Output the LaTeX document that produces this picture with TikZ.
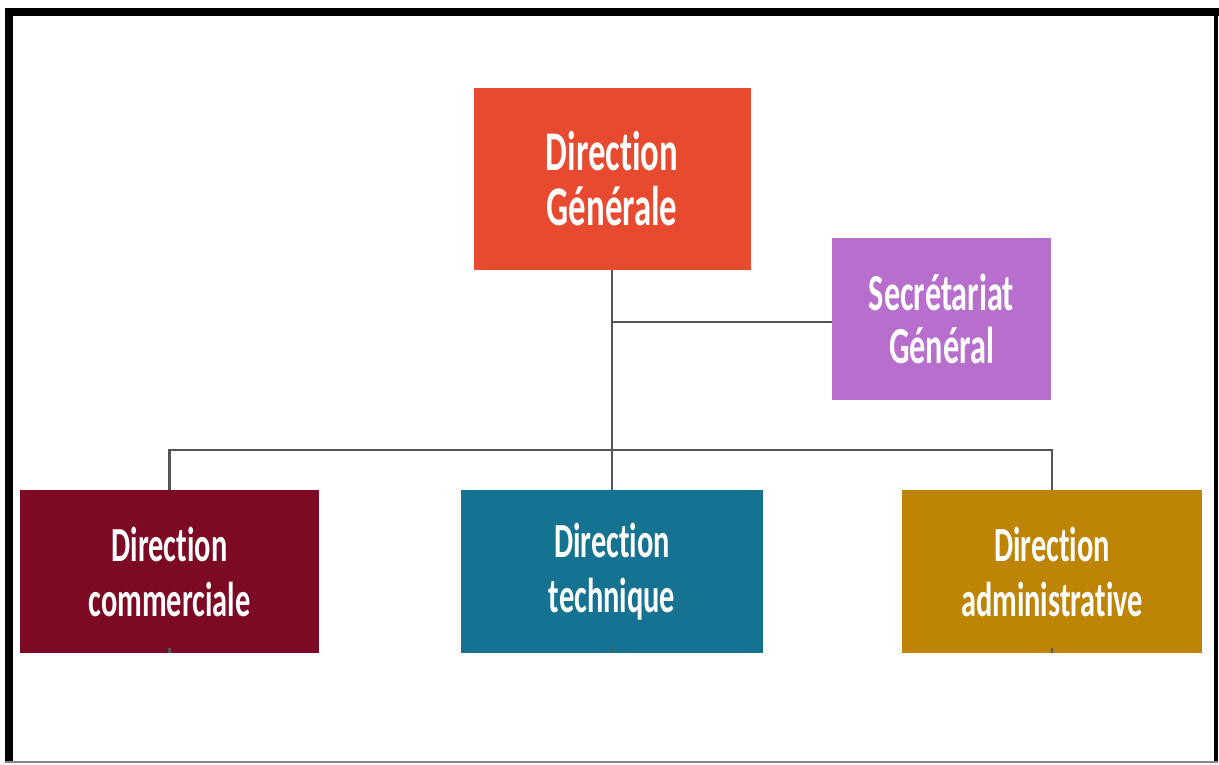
\documentclass[tikz,border=0pt]{standalone}
\usepackage{fontspec}
\newfontfamily\boxfont[FakeStretch=0.62, Ligatures={NoCommon}]{Carlito}
\definecolor{cDG}{RGB}{232,74,47}
\definecolor{cSG}{RGB}{183,110,204}
\definecolor{cDC}{RGB}{125,10,37}
\definecolor{cDT}{RGB}{22,114,145}
\definecolor{cDA}{RGB}{189,132,6}
\definecolor{cLine}{RGB}{85,85,85}
\tikzset{
  orgbox/.style={draw=none, inner sep=0pt, align=center, text=white,
    font=\boxfont\bfseries\fontsize{49}{55}\selectfont},
  bigbox/.style={orgbox, font=\boxfont\bfseries\fontsize{56}{55}\selectfont},
  secbox/.style={orgbox, font=\boxfont\bfseries\fontsize{52}{53}\selectfont},
  link/.style={draw=cLine, line width=2.6pt},
  frame/.style={fill=black, draw=none}
}
\begin{document}
\begin{tikzpicture}[x=1pt,y=-1pt]
\useasboundingbox (0,0) rectangle (1219,765);
% outer frame
\fill[frame] (5,8) rectangle (13,763);
\fill[frame] (5,8) rectangle (1219,16);
\fill[frame] (1214,8) rectangle (1218,763);
\fill[cLine!70] (5,761) rectangle (1218,763);
% boxes
\node[bigbox, fill=cDG, minimum width=277pt, minimum height=182pt] (dg) at (612,179) {Direction\\Générale};
\node[secbox, fill=cSG, minimum width=219pt, minimum height=162pt] (sg) at (941.5,319) {Secrétariat\\Général};
\node[orgbox, fill=cDC, minimum width=299pt, minimum height=163pt] (dc) at (169.5,571.5) {Direction\\commerciale};
\node[orgbox, fill=cDT, minimum width=302pt, minimum height=163pt] (dt) at (612,571.5) {Direction\\technique};
\node[orgbox, fill=cDA, minimum width=300pt, minimum height=163pt] (da) at (1052,571.5) {Direction\\administrative};
% connectors
\coordinate (bus) at (612,450);
\coordinate (sgj) at (612,322);
\draw[link] (dg.south) -- (dt.north);
\draw[link] (sg.west |- sgj) -- (sgj);
\draw[link] (dc.north) |- (bus) -| (da.north);
\coordinate (tc) at ([yshift=5pt]dc.south);
\coordinate (tt) at ([yshift=5pt]dt.south);
\coordinate (ta) at ([yshift=5pt]da.south);
\draw[link] (dc.south) -- (tc);
\draw[link] (dt.south) -- (tt);
\draw[link] (da.south) -- (ta);
\end{tikzpicture}
\end{document}
